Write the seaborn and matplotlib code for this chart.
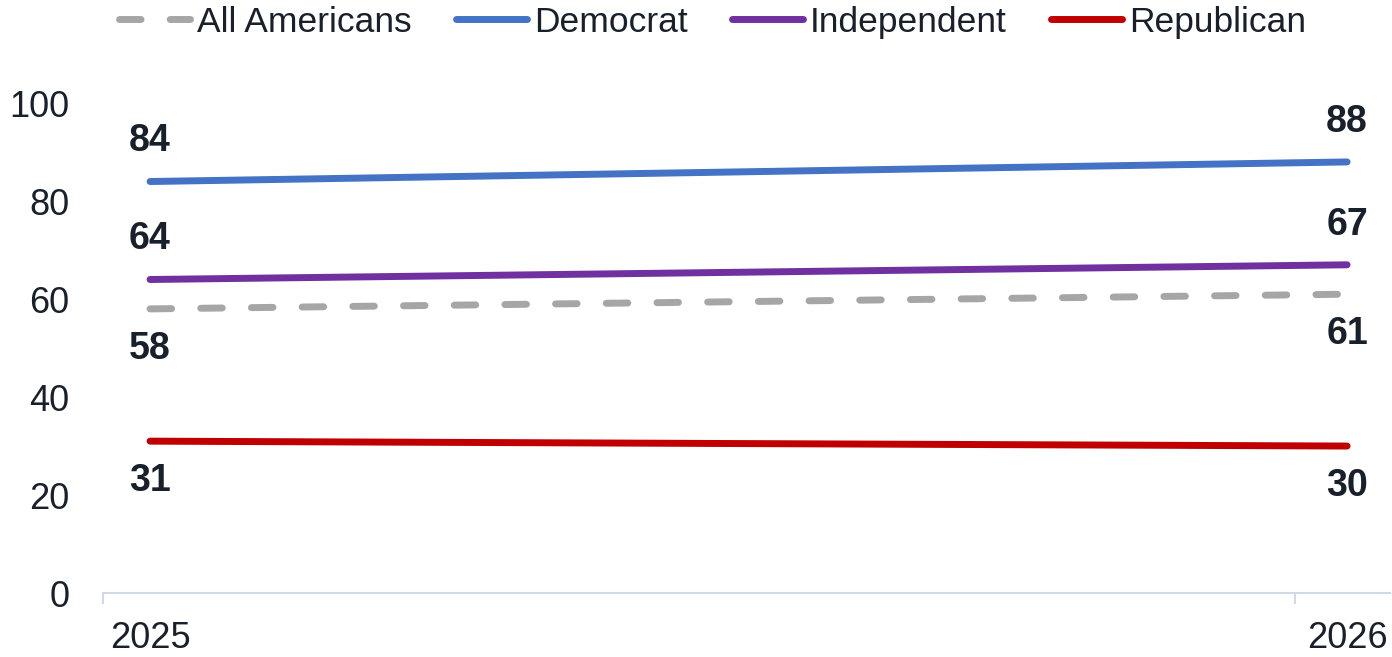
import matplotlib
matplotlib.use("Agg")
import matplotlib.pyplot as plt
import pandas as pd
import seaborn as sns

sns.set_theme(style="white")
plt.rcParams['font.family'] = ['Liberation Sans', 'DejaVu Sans']

years = [2025, 2026]
groups = ["All Americans", "Democrat", "Independent", "Republican"]
all_americans = [58, 61]
democrat = [84, 88]
independent = [64, 67]
republican = [31, 30]

colors = {"All Americans": "#A6A6A6", "Democrat": "#4472C4",
          "Independent": "#7030A0", "Republican": "#C00000"}
# label above (+1) or below (-1) the line
label_side = {"All Americans": -1, "Democrat": 1, "Independent": 1, "Republican": -1}

series = {"All Americans": all_americans, "Democrat": democrat,
          "Independent": independent, "Republican": republican}
df = pd.DataFrame([{"year": y, "value": v, "group": g}
                   for g in groups for y, v in zip(years, series[g])])

text_color = "#18202B"
axis_color = "#D0D9E5"

fig = plt.figure(figsize=(13.92, 6.57), dpi=100)
ax = fig.add_axes([0.074, 0.0974, 0.9246, 0.7456])

sns.lineplot(data=df, x="year", y="value", hue="group", hue_order=groups,
             palette=colors, linewidth=5, legend=False, ax=ax)

for line, g in zip(ax.lines, groups):
    line.set_solid_capstyle("round")
    line.set_dash_capstyle("round")
    line.set_clip_on(False)
    if g == "All Americans":
        line.set_dashes((3.1, 4.2))

# data labels
for g in groups:
    for y, v in zip(years, series[g]):
        ax.annotate(f"{v}", (y, v), xytext=(0, 29 * label_side[g]),
                    textcoords="offset points", ha="center", va="center",
                    fontsize=27, fontweight="bold", color=text_color)

ax.set_ylim(0, 100)
ax.set_yticks(range(0, 101, 20))
ax.set_xlim(2025 - 0.0393, 2026 + 0.0359)
ax.set_xticks(years)
ax.set_xticklabels([str(y) for y in years])
ax.set_xticks([2025 - 0.0393, 2025 + 0.9566], minor=True)
ax.set_xlabel("")
ax.set_ylabel("")

ax.tick_params(axis="x", which="major", length=0, pad=20, labelsize=26, labelcolor=text_color)
ax.tick_params(axis="x", which="minor", length=8, width=1.5, color=axis_color, bottom=True)
ax.tick_params(axis="y", length=0, pad=24, labelsize=26, labelcolor=text_color)

for s in ["top", "right", "left"]:
    ax.spines[s].set_visible(False)
ax.spines["bottom"].set_color(axis_color)
ax.spines["bottom"].set_linewidth(1.5)
ax.grid(False)

leg = fig.legend(ax.lines, groups, loc="upper center", bbox_to_anchor=(0.512, 1.04),
                 ncol=4, frameon=False, fontsize=25.5, handlelength=2.0,
                 handletextpad=0.2, columnspacing=1.25, labelcolor=text_color)

fig.savefig("out.png", dpi=100)
